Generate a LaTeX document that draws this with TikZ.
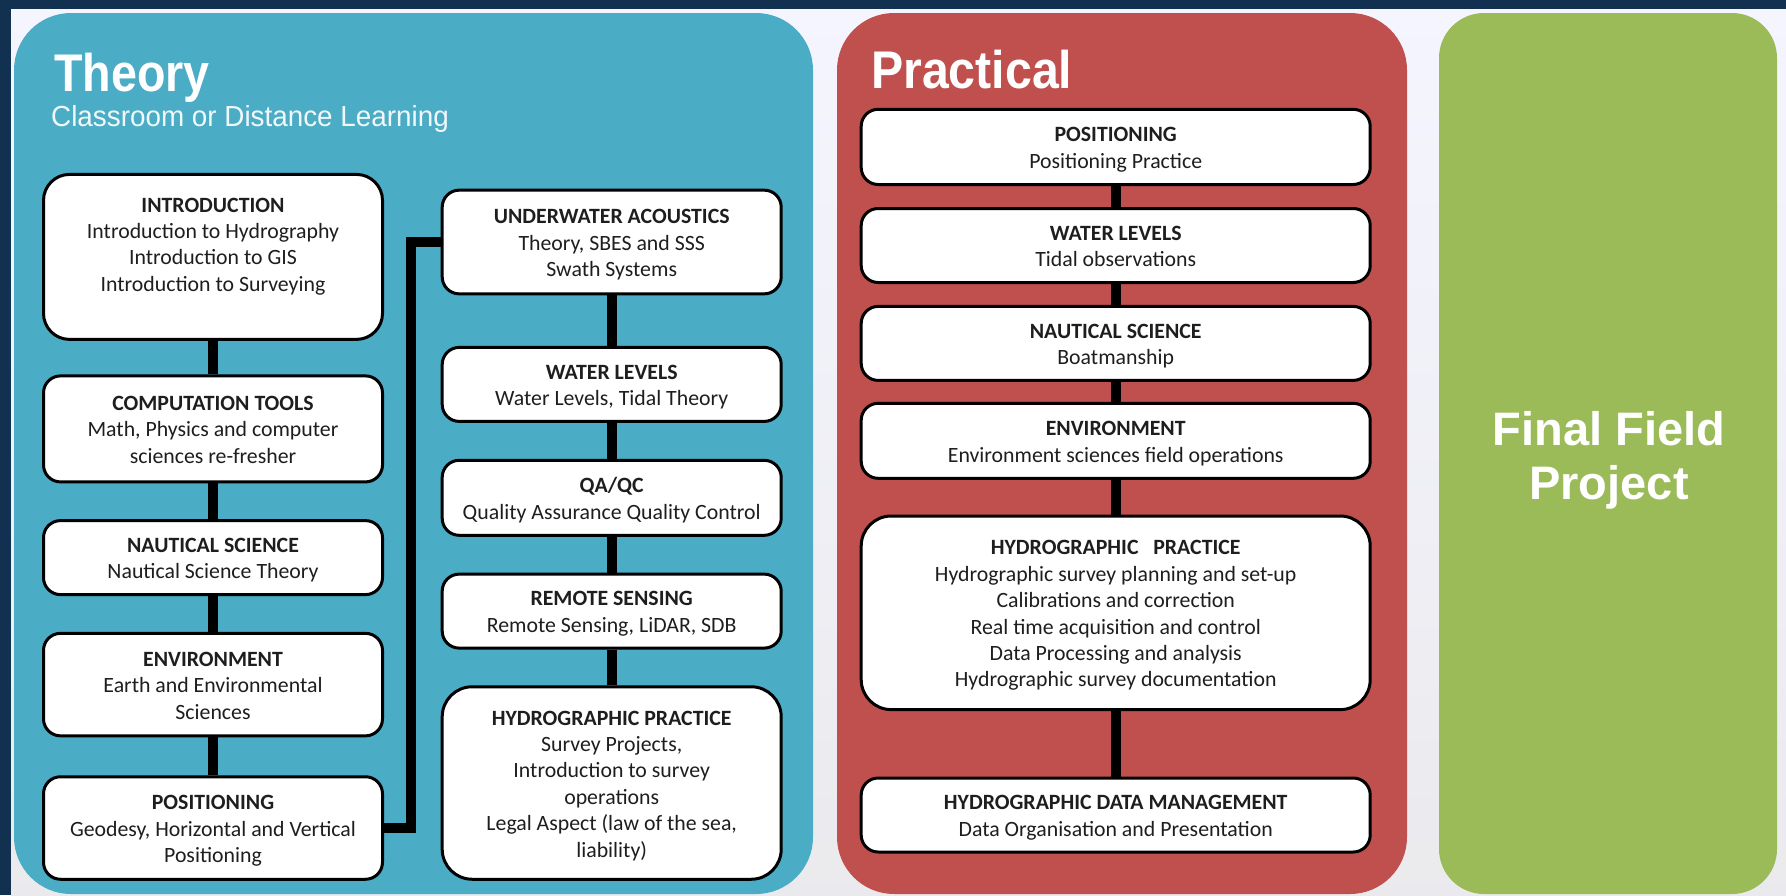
\documentclass[tikz,border=0pt]{standalone}
\usepackage{fontspec}
\usepackage{graphicx}
\setmainfont{Carlito}
\newfontfamily\arialfont{Liberation Sans}
\definecolor{navy}{HTML}{12304F}
\definecolor{aqua}{HTML}{4BACC6}
\definecolor{brick}{HTML}{C0504D}
\definecolor{olive}{HTML}{9BBB59}
\definecolor{ink}{HTML}{1E1E1E}
\newcommand\hd[1]{\rule{0pt}{20pt}\textbf{#1}}
\newcommand\zb{\rule[-4pt]{0pt}{4pt}}
\tikzset{
  box/.style={draw=black, line width=3pt, fill=white, rounded corners=17pt,
    align=center, text=ink, inner sep=0pt,
    font={\fontsize{21.8}{26.4}\selectfont}},
  tcol/.style={box, minimum width=339pt},
  pcol/.style={box, minimum width=509pt},
  link/.style={draw=black, line width=10pt},
  paneltitle/.style={anchor=base west, text=white, inner sep=0pt,
    font={\arialfont\bfseries\fontsize{53}{60}\selectfont}},
}
\begin{document}
\begin{tikzpicture}[x=1pt,y=-1pt]
\useasboundingbox (0,0) rectangle (1786,895);
% background
\fill[navy] (0,0) rectangle (1786,895);
\shade[top color=white!96!blue, bottom color=blue!8!gray!15] (11,9) rectangle (1786,895);
% panels
\fill[aqua, rounded corners=57pt] (14,13) rectangle (813,894);
\fill[brick, rounded corners=57pt] (837,13) rectangle (1407,894);
\fill[olive, rounded corners=45pt] (1439,13) rectangle (1777,894);

% titles
\node[paneltitle] (ttitle) at (54,91) {\scalebox{0.88}[1]{Theory}};
\node[anchor=base west, inner sep=0pt, text=white!92!aqua,
  font={\arialfont\fontsize{29}{34}\selectfont}] (tsub) at (51,126)
  {\scalebox{0.96}[1]{Classroom or Distance Learning}};
\node[paneltitle] (ptitle) at (871,88) {\scalebox{0.91}[1]{Practical}};
\node[align=center, text=white, inner sep=0pt,
  font={\arialfont\bfseries\fontsize{47}{54}\selectfont}] (final) at (1609,460)
  {Final Field\\Project};

% theory, left column
\node[tcol, rounded corners=26pt, minimum height=165pt] (tintro) at (213,256.9)
  {\hd{INTRODUCTION}\\Introduction to Hydrography\\Introduction to GIS\\Introduction to Surveying\\ \zb};
\node[tcol, minimum height=106pt] (tcomp) at (213,428.9)
  {\hd{COMPUTATION TOOLS}\\Math, Physics and computer\\sciences re-fresher\zb};
\node[tcol, minimum height=74pt] (tnaut) at (213,557.6)
  {\hd{NAUTICAL SCIENCE}\\Nautical Science Theory\zb};
\node[tcol, minimum height=102.5pt] (tenv) at (213,684.6)
  {\hd{ENVIRONMENT}\\Earth and Environmental\\Sciences\zb};
\node[tcol, minimum height=102.5pt] (tpos) at (213,828)
  {\hd{POSITIONING}\\Geodesy, Horizontal and Vertical\\Positioning\zb};

% theory, right column
\node[tcol, minimum height=103.7pt] (tuw) at (611.7,242)
  {\hd{UNDERWATER ACOUSTICS}\\Theory, SBES and SSS\\Swath Systems\zb};
\node[tcol, minimum height=74pt] (twl) at (611.7,384.4)
  {\hd{WATER LEVELS}\\Water Levels, Tidal Theory\zb};
\node[tcol, minimum height=75pt] (tqa) at (611.7,497.8)
  {\hd{QA/QC}\\Quality Assurance Quality Control\zb};
\node[tcol, minimum height=74pt] (trs) at (611.7,611.1)
  {\hd{REMOTE SENSING}\\Remote Sensing, LiDAR, SDB\zb};
\node[tcol, rounded corners=30pt, minimum height=192.5pt] (thp) at (611.7,783)
  {\hd{HYDROGRAPHIC PRACTICE}\\Survey Projects,\\Introduction to survey\\operations\\Legal Aspect (law of the sea,\\liability)\zb};

% practical column
\node[pcol, minimum height=75.2pt] (ppos) at (1115.7,146.9)
  {\hd{POSITIONING}\\Positioning Practice\zb};
\node[pcol, minimum height=74pt] (pwl) at (1115.7,245.5)
  {\hd{WATER LEVELS}\\Tidal observations\zb};
\node[pcol, minimum height=74pt] (pns) at (1115.7,343.4)
  {\hd{NAUTICAL SCIENCE}\\Boatmanship\zb};
\node[pcol, minimum height=75pt] (penv) at (1115.7,440.8)
  {\hd{ENVIRONMENT}\\Environment sciences field operations\zb};
\node[pcol, rounded corners=30pt, minimum height=193.6pt] (php) at (1115.7,612.8)
  {\hd{HYDROGRAPHIC\hspace{0.45em} PRACTICE}\\Hydrographic survey planning and set-up\\Calibrations and correction\\Real time acquisition and control\\Data Processing and analysis\\Hydrographic survey documentation\zb};
\node[pcol, minimum height=74pt] (pdm) at (1115.7,815)
  {\hd{HYDROGRAPHIC DATA MANAGEMENT}\\Data Organisation and Presentation\zb};

% connectors
\draw[link] (tintro.south) -- (tcomp.north);
\draw[link] (tcomp.south) -- (tnaut.north);
\draw[link] (tnaut.south) -- (tenv.north);
\draw[link] (tenv.south) -- (tpos.north);
\draw[link] (tpos.east) -- ++(27,0) |- (tuw.west);
\draw[link] (tuw.south) -- (twl.north);
\draw[link] (twl.south) -- (tqa.north);
\draw[link] (tqa.south) -- (trs.north);
\draw[link] (trs.south) -- (thp.north);
\draw[link] (ppos.south) -- (pwl.north);
\draw[link] (pwl.south) -- (pns.north);
\draw[link] (pns.south) -- (penv.north);
\draw[link] (penv.south) -- (php.north);
\draw[link] (php.south) -- (pdm.north);
\end{tikzpicture}
\end{document}
